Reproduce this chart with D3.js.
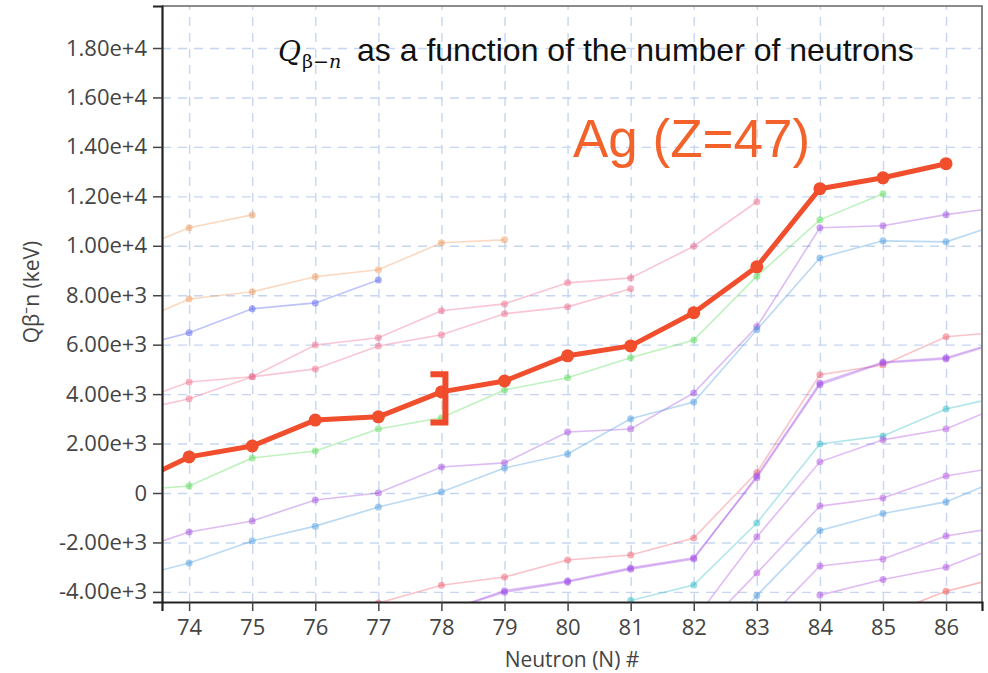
<!DOCTYPE html>
<html>
<head>
<meta charset="utf-8">
<script src="https://cdn.jsdelivr.net/npm/d3@7"></script>
<style>
  body { margin: 0; background: #fff; }
  .tick text { font-family: "Open Sans", sans-serif; fill: #444; }
</style>
</head>
<body>
<div class="chart"></div>
<script>
// DATA (keV), one entry per neutron number, null = no value
var neutrons = [73, 74, 75, 76, 77, 78, 79, 80, 81, 82, 83, 84, 85, 86, 87];
var xTicks = [74, 75, 76, 77, 78, 79, 80, 81, 82, 83, 84, 85, 86];
var yTicks = [-4000, -2000, 0, 2000, 4000, 6000, 8000, 10000, 12000, 14000, 16000, 18000];
var yTickLabels = ["-4.00e+3", "-2.00e+3", "0", "2.00e+3", "4.00e+3", "6.00e+3", "8.00e+3",
                   "1.00e+4", "1.20e+4", "1.40e+4", "1.60e+4", "1.80e+4"];

var agValues = [230, 1460, 1900, 2950, 3080, 4090, 4530, 5550, 5950, 7290, 9150, 12310, 12750, 13320, null];

var orangeA  = [9690, 10730, 11250, null, null, null, null, null, null, null, null, null, null, null, null];
var orangeB  = [6720, 7850, 8140, 8750, 9030, 10120, 10240, null, null, null, null, null, null, null, null];
var blueA    = [5820, 6480, 7450, 7690, 8620, null, null, null, null, null, null, null, null, null, null];
var pinkA    = [3550, 4490, 4700, 5990, 6280, 7370, 7650, 8500, 8700, 9980, 11780, null, null, null, null];
var pinkB    = [3240, 3810, 4700, 5020, 5950, 6400, 7250, 7530, 8260, null, null, null, null, null, null];
var greenA   = [100, 280, 1420, 1700, 2590, 3040, 4170, 4660, 5470, 6190, 8770, 11050, 12100, null, null];
var purpleA  = [-2430, -1580, -1130, -280, 0, 1050, 1220, 2470, 2590, 4050, 6720, 10730, 10810, 11260, 11610];
var blueB    = [-3490, -2830, -1940, -1340, -570, 40, 1010, 1580, 3000, 3680, 6600, 9510, 10200, 10160, 11010];
var pinkLow  = [null, null, null, -5100, -4450, -3730, -3400, -2710, -2510, -1820, 830, 4780, 5180, 6320, 6530];
var purpleLowA = [null, null, null, null, null, -4830, -4010, -3600, -3080, -2670, 690, 4450, 5300, 5470, 6240];
var purpleLowB = [null, null, null, null, null, -4830, -3950, -3560, -3030, -2620, 620, 4380, 5260, 5420, 6200];
var tealA    = [null, null, null, null, null, null, null, null, -4350, -3720, -1215, 1980, 2310, 3400, 3970];
var purpleB  = [null, null, null, null, null, null, null, null, null, -5170, -1780, 1260, 2150, 2590, 3660];
var purpleC  = [null, null, null, null, null, null, null, null, null, -5880, -3240, -530, -200, 690, 1110];
var blueC    = [null, null, null, null, null, null, null, null, null, -7000, -4150, -1520, -830, -360, 700];
var purpleD  = [null, null, null, null, null, null, null, null, null, null, -5580, -2955, -2670, -1740, -1320];
var purpleE  = [null, null, null, null, null, null, null, null, null, null, null, -4130, -3500, -3000, -2000];
var redLow   = [null, null, null, null, null, null, null, null, null, null, null, null, -4970, -3970, -3330];

var bracketN = 78;
var bracketRange = [2850, 4800];

var faintSeries = [
  {values: orangeA, color: "#f29a5a"},
  {values: orangeB, color: "#f29a5a"},
  {values: blueA, color: "#5560ee"},
  {values: pinkA, color: "#ee6a8c"},
  {values: pinkB, color: "#ee6a8c"},
  {values: greenA, color: "#55dd55"},
  {values: purpleA, color: "#a24ee0"},
  {values: blueB, color: "#4a9ce0"},
  {values: pinkLow, color: "#f06070"},
  {values: purpleLowA, color: "#a450e6"},
  {values: purpleLowB, color: "#a450e6"},
  {values: tealA, color: "#30bcc8"},
  {values: purpleB, color: "#b050e0"},
  {values: purpleC, color: "#b050e0"},
  {values: blueC, color: "#4a9ce0"},
  {values: purpleD, color: "#b050e0"},
  {values: purpleE, color: "#b050e0"},
  {values: redLow, color: "#f05050"}
];

var width = 988, height = 673;
var margin = {top: 6, right: 6, bottom: 71, left: 162};
var w = width - margin.left - margin.right;
var h = height - margin.top - margin.bottom;

var x = d3.scaleLinear().domain([73.57, 86.57]).range([0, w]);
var y = d3.scaleLinear().domain([-4409, 19699]).range([h, 0]);

var svg = d3.select(".chart").append("svg")
    .attr("width", width)
    .attr("height", height);

var g = svg.append("g")
    .attr("transform", "translate(" + margin.left + "," + margin.top + ")");

g.append("clipPath").attr("id", "plotclip")
  .append("rect").attr("width", w).attr("height", h);

// grid
g.append("g")
    .attr("class", "grid")
    .attr("transform", "translate(0," + h + ")")
    .call(d3.axisBottom(x).tickValues(xTicks).tickSize(-h).tickFormat(""))
    .call(function(s) { s.select(".domain").remove(); });
g.append("g")
    .attr("class", "grid")
    .call(d3.axisLeft(y).tickValues(yTicks).tickSize(-w).tickFormat(""))
    .call(function(s) { s.select(".domain").remove(); });
g.selectAll(".grid line")
    .attr("stroke", "#c6d6f0")
    .attr("stroke-width", 1.4)
    .attr("stroke-dasharray", "9,7");

// frame top / right
g.append("path")
    .attr("d", "M0,0H" + w + "V" + h)
    .attr("fill", "none")
    .attr("stroke", "#666")
    .attr("stroke-width", 1.6);

var plot = g.append("g").attr("clip-path", "url(#plotclip)");

var line = d3.line()
    .defined(function(d) { return d.v !== null; })
    .x(function(d) { return x(d.n); })
    .y(function(d) { return y(d.v); });

function points(values) {
  return neutrons.map(function(n, i) { return {n: n, v: values[i]}; });
}

faintSeries.forEach(function(s) {
  var pts = points(s.values);
  plot.append("path")
      .datum(pts)
      .attr("fill", "none")
      .attr("stroke", s.color)
      .attr("stroke-opacity", 0.38)
      .attr("stroke-width", 1.6)
      .attr("d", line);
  plot.selectAll(null)
      .data(pts.filter(function(d) { return d.v !== null; }))
      .enter().append("circle")
      .attr("cx", function(d) { return x(d.n); })
      .attr("cy", function(d) { return y(d.v); })
      .attr("r", 3.5)
      .attr("fill", s.color)
      .attr("fill-opacity", 0.5);
});

// Ag (Z=47)
var agPts = points(agValues);
plot.append("path")
    .datum(agPts)
    .attr("fill", "none")
    .attr("stroke", "#f04e2c")
    .attr("stroke-width", 5)
    .attr("stroke-linejoin", "round")
    .attr("d", line);
plot.selectAll(".agdot")
    .data(agPts.filter(function(d) { return d.v !== null; }))
    .enter().append("circle")
    .attr("class", "agdot")
    .attr("cx", function(d) { return x(d.n); })
    .attr("cy", function(d) { return y(d.v); })
    .attr("r", 6.5)
    .attr("fill", "#f04e2c");

// axes
var xAxis = g.append("g")
    .attr("transform", "translate(0," + h + ")")
    .call(d3.axisBottom(x).tickValues(xTicks).tickSize(9).tickSizeOuter(9).tickPadding(8).tickFormat(d3.format("d")));
var yAxis = g.append("g")
    .call(d3.axisLeft(y).tickValues(yTicks).tickSize(9).tickSizeOuter(9).tickPadding(6)
      .tickFormat(function(d, i) { return yTickLabels[i]; }));
[xAxis, yAxis].forEach(function(a) {
  a.select(".domain").attr("stroke", "#222").attr("stroke-width", 2.2);
  a.selectAll(".tick line").attr("stroke", "#444").attr("stroke-width", 1.5);
  a.selectAll(".tick text").attr("font-size", 22).attr("fill", "#444");
});

// axis titles
svg.append("text")
    .attr("x", 572)
    .attr("y", 667)
    .attr("text-anchor", "middle")
    .attr("font-family", "Open Sans, sans-serif")
    .attr("font-size", 21)
    .attr("fill", "#444")
    .text("Neutron (N) #");

svg.append("text")
    .attr("transform", "translate(39,292) rotate(-90)")
    .attr("text-anchor", "middle")
    .attr("font-family", "Open Sans, sans-serif")
    .attr("font-size", 21)
    .attr("fill", "#444")
    .text("Q\u03b2\u207bn (keV)");

// title
var title = svg.append("text")
    .attr("x", 278)
    .attr("y", 61)
    .attr("fill", "#111");
title.append("tspan")
    .attr("font-family", "DejaVu Serif, serif")
    .attr("font-style", "italic")
    .attr("font-size", 28)
    .text("Q");
title.append("tspan")
    .attr("dy", 7)
    .attr("dx", 1)
    .attr("font-family", "DejaVu Serif, serif")
    .attr("font-size", 19)
    .text("\u03b2\u2212");
title.append("tspan")
    .attr("font-family", "DejaVu Serif, serif")
    .attr("font-style", "italic")
    .attr("font-size", 19)
    .text("n");
title.append("tspan")
    .attr("x", 357)
    .attr("y", 61)
    .attr("font-family", "Liberation Sans, Arial, sans-serif")
    .attr("font-size", 32)
    .text("as a function of the number of neutrons");

// element label
svg.append("text")
    .attr("x", 573)
    .attr("y", 157)
    .attr("font-family", "Liberation Sans, Arial, sans-serif")
    .attr("font-size", 53)
    .attr("fill", "#f2622a")
    .text("Ag (Z=47)");

// bracket marker
var bx = x(bracketN) + 4;
g.append("path")
    .attr("d", "M" + (bx - 15) + "," + y(bracketRange[1]) + "H" + bx + "V" + y(bracketRange[0]) + "H" + (bx - 15))
    .attr("fill", "none")
    .attr("stroke", "#f04a2a")
    .attr("stroke-width", 6);
</script>
</body>
</html>
